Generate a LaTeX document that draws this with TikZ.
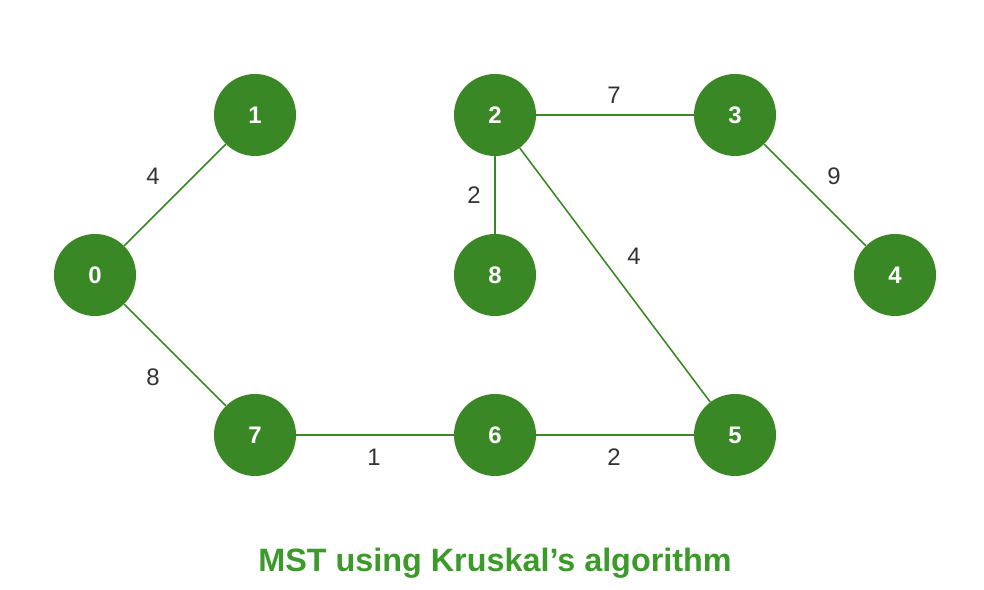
\documentclass[tikz,border=0pt]{standalone}
\usepackage{fontspec}
\setmainfont{Liberation Sans}
\definecolor{mstgreen}{HTML}{3A8726}
\definecolor{titlegreen}{HTML}{3C9A2A}
\definecolor{wtgray}{HTML}{333333}
\begin{document}
\begin{tikzpicture}[x=0.025cm,y=-0.025cm,
    vertex/.style={circle, fill=mstgreen, minimum size=2.05cm, inner sep=0pt,
                   text=white, font=\fontsize{17}{20}\selectfont\bfseries},
    edgeline/.style={draw=mstgreen, line width=1.1pt},
    weight/.style={text=wtgray, font=\fontsize{17}{20}\selectfont}]

        % Frame
        \useasboundingbox (0,0) rectangle (984,590);

        % Vertices
        \node[vertex] (v0) at ( 95,275) {0};
        \node[vertex] (v1) at (255,115) {1};
        \node[vertex] (v2) at (495,115) {2};
        \node[vertex] (v3) at (735,115) {3};
        \node[vertex] (v4) at (895,275) {4};
        \node[vertex] (v8) at (495,275) {8};
        \node[vertex] (v7) at (255,435) {7};
        \node[vertex] (v6) at (495,435) {6};
        \node[vertex] (v5) at (735,435) {5};

        % Tree edges
        \draw[edgeline] (v0) -- (v1);
        \draw[edgeline] (v0) -- (v7);
        \draw[edgeline] (v7) -- (v6);
        \draw[edgeline] (v6) -- (v5);
        \draw[edgeline] (v2) -- (v8);
        \draw[edgeline] (v2) -- (v3);
        \draw[edgeline] (v2) -- (v5);
        \draw[edgeline] (v3) -- (v4);

        % Weights
        \node[weight] (w01) at (153,176) {4};
        \node[weight] (w07) at (153,377) {8};
        \node[weight] (w76) at (374,457) {1};
        \node[weight] (w65) at (614,457) {2};
        \node[weight] (w28) at (474,195) {2};
        \node[weight] (w23) at (614, 95) {7};
        \node[weight] (w25) at (634,256) {4};
        \node[weight] (w34) at (834,176) {9};

        % Title
        \node[text=titlegreen, font=\fontsize{23}{27}\selectfont\bfseries] (title)
            at (495,563) {MST using Kruskal's algorithm};

    \end{tikzpicture}
\end{document}
